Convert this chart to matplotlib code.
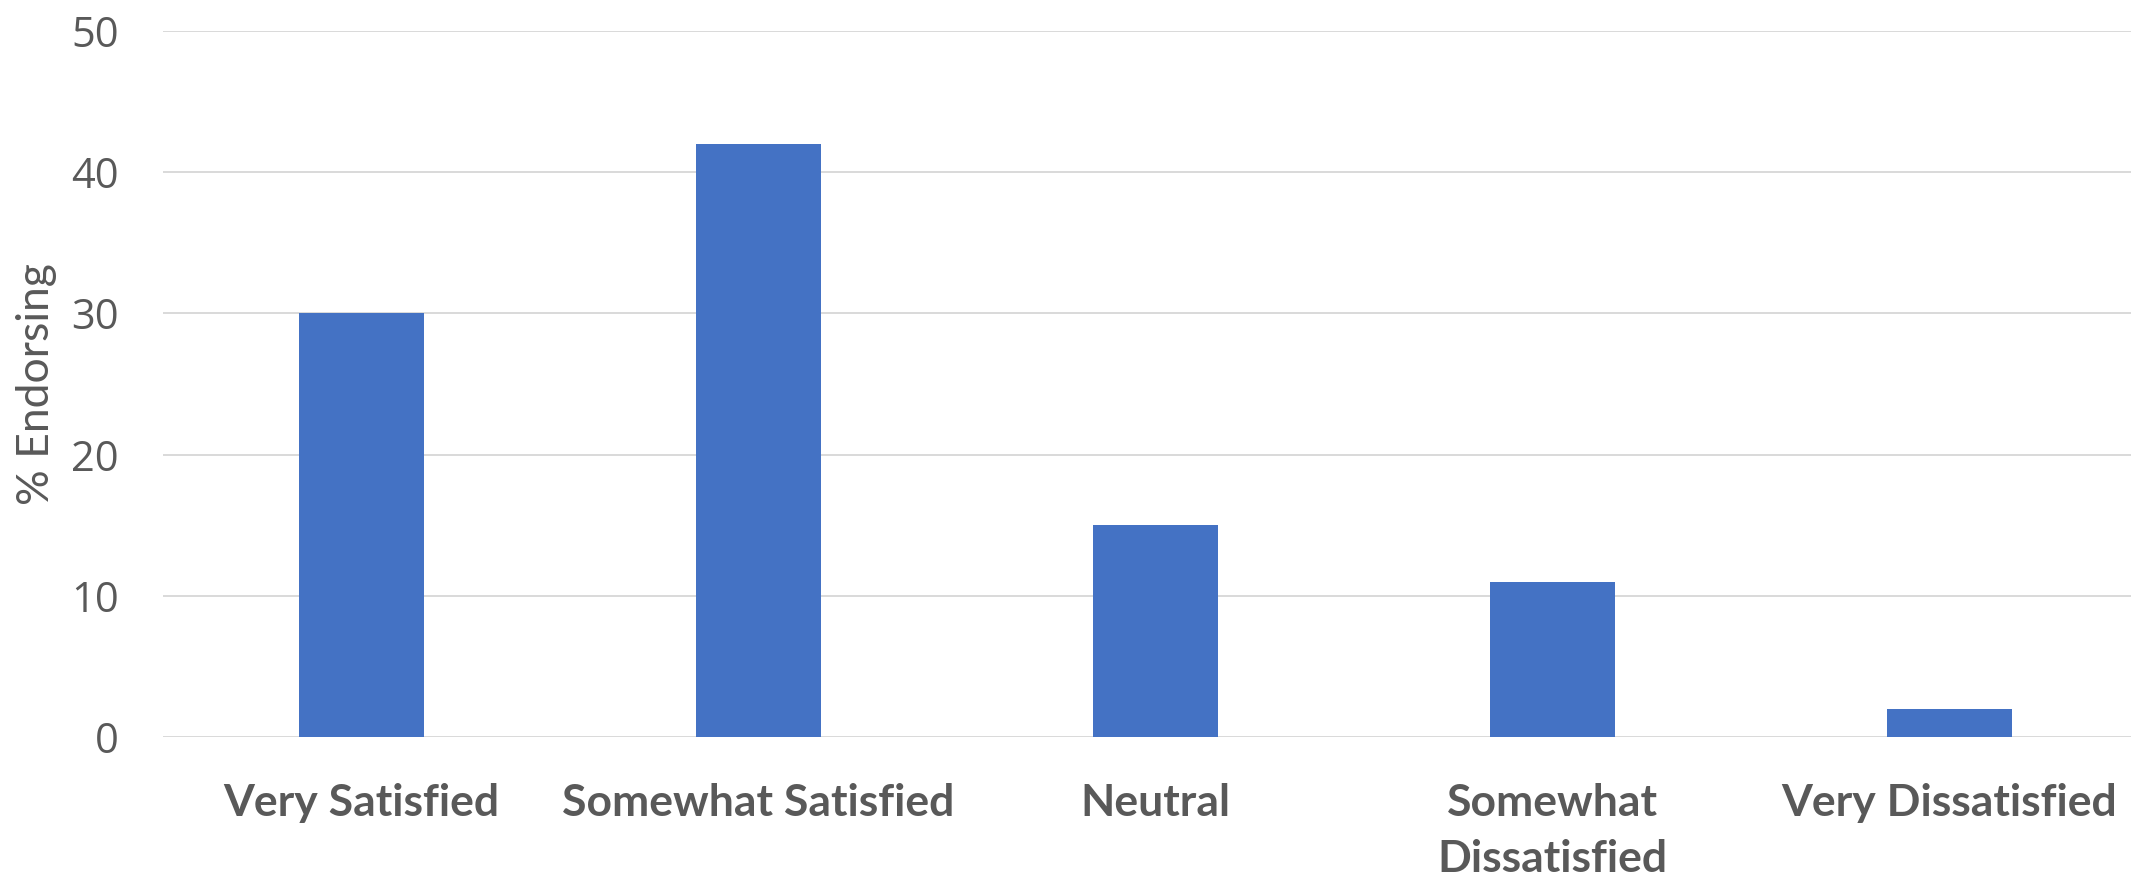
import matplotlib
matplotlib.use("Agg")
import matplotlib.pyplot as plt
import numpy as np

categories = ["Very Satisfied", "Somewhat Satisfied", "Neutral",
              "Somewhat\nDissatisfied", "Very Dissatisfied"]
pct_endorsing = [30, 42, 15, 11, 2]
y_ticks = [0, 10, 20, 30, 40, 50]

TEXT = "#595959"
BAR = "#4472C4"
GRID = "#D9D9D9"

fig = plt.figure(figsize=(21.31, 8.76), dpi=100)
ax = fig.add_axes([163 / 2131, 139 / 876, 1985 / 2131, 706 / 876])

x = np.arange(len(categories))
ax.bar(x, pct_endorsing, width=0.315, color=BAR, zorder=3)

ax.set_xlim(-0.5, len(categories) - 0.5)
ax.set_ylim(0, 50)
ax.set_yticks(y_ticks)
ax.yaxis.grid(True, color=GRID, linewidth=1.4, zorder=0)
ax.set_axisbelow(True)
for s in ax.spines.values():
    s.set_visible(False)

ax.tick_params(axis="both", length=0)
ax.tick_params(axis="y", pad=32, labelsize=30, labelcolor=TEXT)
ax.tick_params(axis="x", pad=33, labelcolor=TEXT)

ax.set_xticks(x)
ax.set_xticklabels(categories, fontsize=32, fontweight="bold",
                   family="Lato", linespacing=1.5, va="top")
for lbl in ax.get_yticklabels():
    lbl.set_family("Open Sans")

ax.set_ylabel("% Endorsing", fontsize=32, color=TEXT, family="Lato", labelpad=10)

fig.savefig("out.png", dpi=100)
